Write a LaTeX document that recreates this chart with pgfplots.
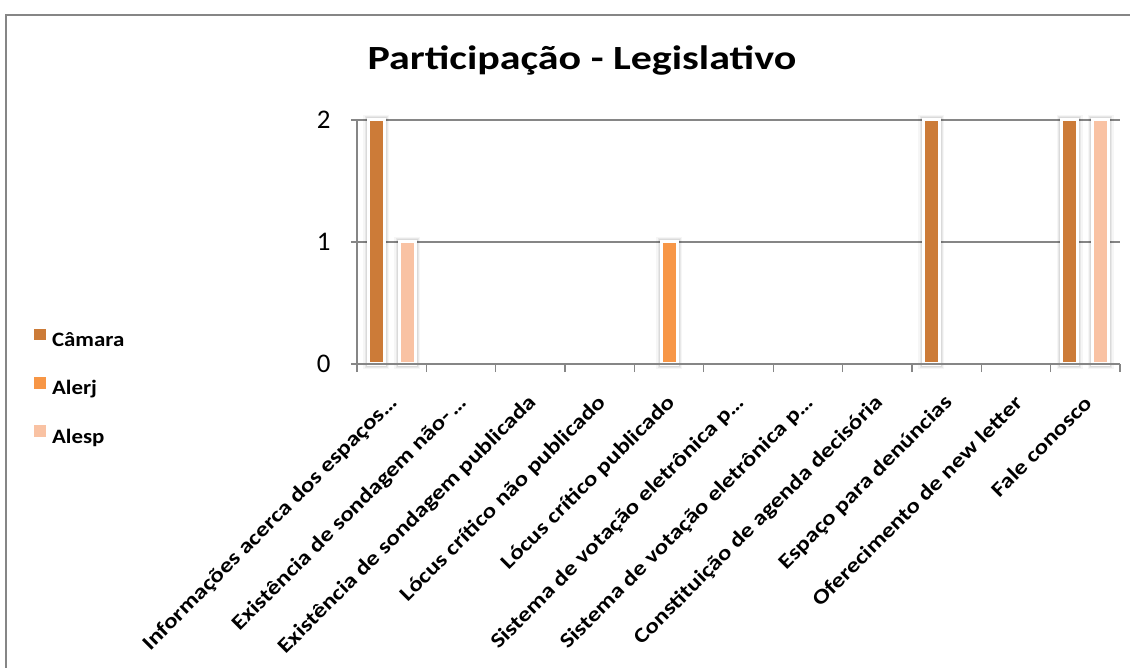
\documentclass[border=0pt]{standalone}
\usepackage{fontspec}
\usepackage{pgfplots}
\usepackage{pgfplotstable}
\pgfplotsset{compat=1.18}
\setmainfont{Carlito}
\newfontfamily\titlefont[FakeStretch=1.24]{Carlito}
\newfontfamily\labelfont[FakeStretch=1.2]{Carlito}
\newfontfamily\legendfont[FakeStretch=1.12]{Carlito}

\definecolor{camara}{HTML}{CC7B38}
\definecolor{alerj}{HTML}{F79646}
\definecolor{alesp}{HTML}{F9C2A3}
\definecolor{axisgray}{HTML}{868686}

% scores per item: Câmara, Alerj, Alesp
\pgfplotstableread{
x    camara alerj alesp
0.5  2      0     1
1.5  0      0     0
2.5  0      0     0
3.5  0      0     0
4.5  0      1     0
5.5  0      0     0
6.5  0      0     0
7.5  0      0     0
8.5  2      0     0
9.5  0      0     0
10.5 2      0     2
}\participacao

\tikzset{
  barglow/.style={
    preaction={draw=black, draw opacity=0.035, line width=10bp},
    preaction={draw=black, draw opacity=0.06, line width=7bp},
    preaction={draw=black, draw opacity=0.06, line width=5bp},
    draw=white, line width=3bp
  }
}
\pgfplotsset{
  glowbar/.style={ybar, bar width=0.2305, barglow},
  legendsquare/.style={legend image code/.code={%
    \fill[##1] (0bp,0bp) rectangle (11.5bp,11.5bp);}}
}

\begin{document}
\begin{tikzpicture}
\useasboundingbox (0bp,0bp) rectangle (1130bp,668bp);
% outer frame of the chart area
\draw[axisgray, line width=2.2bp] (6bp,-5bp) -- (6bp,653bp) -- (1140bp,653bp);

\node[anchor=base, font=\titlefont\bfseries\fontsize{34}{40}\selectfont] at (582bp,598bp) {Participação - Legislativo};

\begin{axis}[
  at={(357bp,304bp)}, anchor=south west,
  scale only axis, width=763bp, height=244bp,
  xmin=0, xmax=11, ymin=0, ymax=2,
  clip=false,
  axis x line*=bottom, axis y line*=left,
  axis line style={axisgray, line width=1.2bp},
  xtick={0.5,1.5,...,10.5},
  xticklabels={
    Informações acerca dos espaços…,
    Existência de sondagem não-\,…,
    Existência de sondagem publicada,
    Lócus crítico não publicado,
    Lócus crítico publicado,
    Sistema de votação eletrônica p…,
    Sistema de votação eletrônica p…,
    Constituição de agenda decisória,
    Espaço para denúncias,
    Oferecimento de new letter,
    Fale conosco},
  major x tick style={draw=none},
  minor xtick={0,1,...,11},
  minor x tick style={axisgray, line width=1.2bp},
  minor tick length=8bp,
  ytick={0,1,2},
  major y tick style={axisgray, line width=1.2bp},
  major tick length=6bp,
  tick align=outside,
  ymajorgrids,
  grid style={axisgray, line width=1.2bp},
  /pgf/number format/assume math mode=true,
  xticklabel style={font=\labelfont\bfseries\fontsize{21}{25}\selectfont,
    xshift=5bp, yshift=-27bp, rotate=45, anchor=east},
  yticklabel style={font=\fontsize{27}{32}\selectfont, xshift=-17bp},
  y filter/.expression={y==0 ? nan : y},
  unbounded coords=discard,
  legend style={at={(-0.4235,0.145)}, anchor=north west, draw=none, fill=none,
    font=\legendfont\bfseries\fontsize{20.5}{24}\selectfont,
    row sep=27bp, inner sep=0pt,
    nodes={inner xsep=6.5bp}},
  legend cell align=left,
]
\addplot[fill=camara, glowbar, bar shift=-0.223, forget plot]
  table[x=x, y=camara] {\participacao};
\addplot[fill=alerj, glowbar, bar shift=0, forget plot]
  table[x=x, y=alerj] {\participacao};
\addplot[fill=alesp, glowbar, bar shift=0.223, forget plot]
  table[x=x, y=alesp] {\participacao};
\addlegendimage{legendsquare, fill=camara, draw=none}
\addlegendimage{legendsquare, fill=alerj, draw=none}
\addlegendimage{legendsquare, fill=alesp, draw=none}
\legend{Câmara, Alerj, Alesp}
\draw[axisgray, line width=1.2bp] (axis cs:0,0) -- (axis cs:11,0);
\end{axis}
\end{tikzpicture}
\end{document}
